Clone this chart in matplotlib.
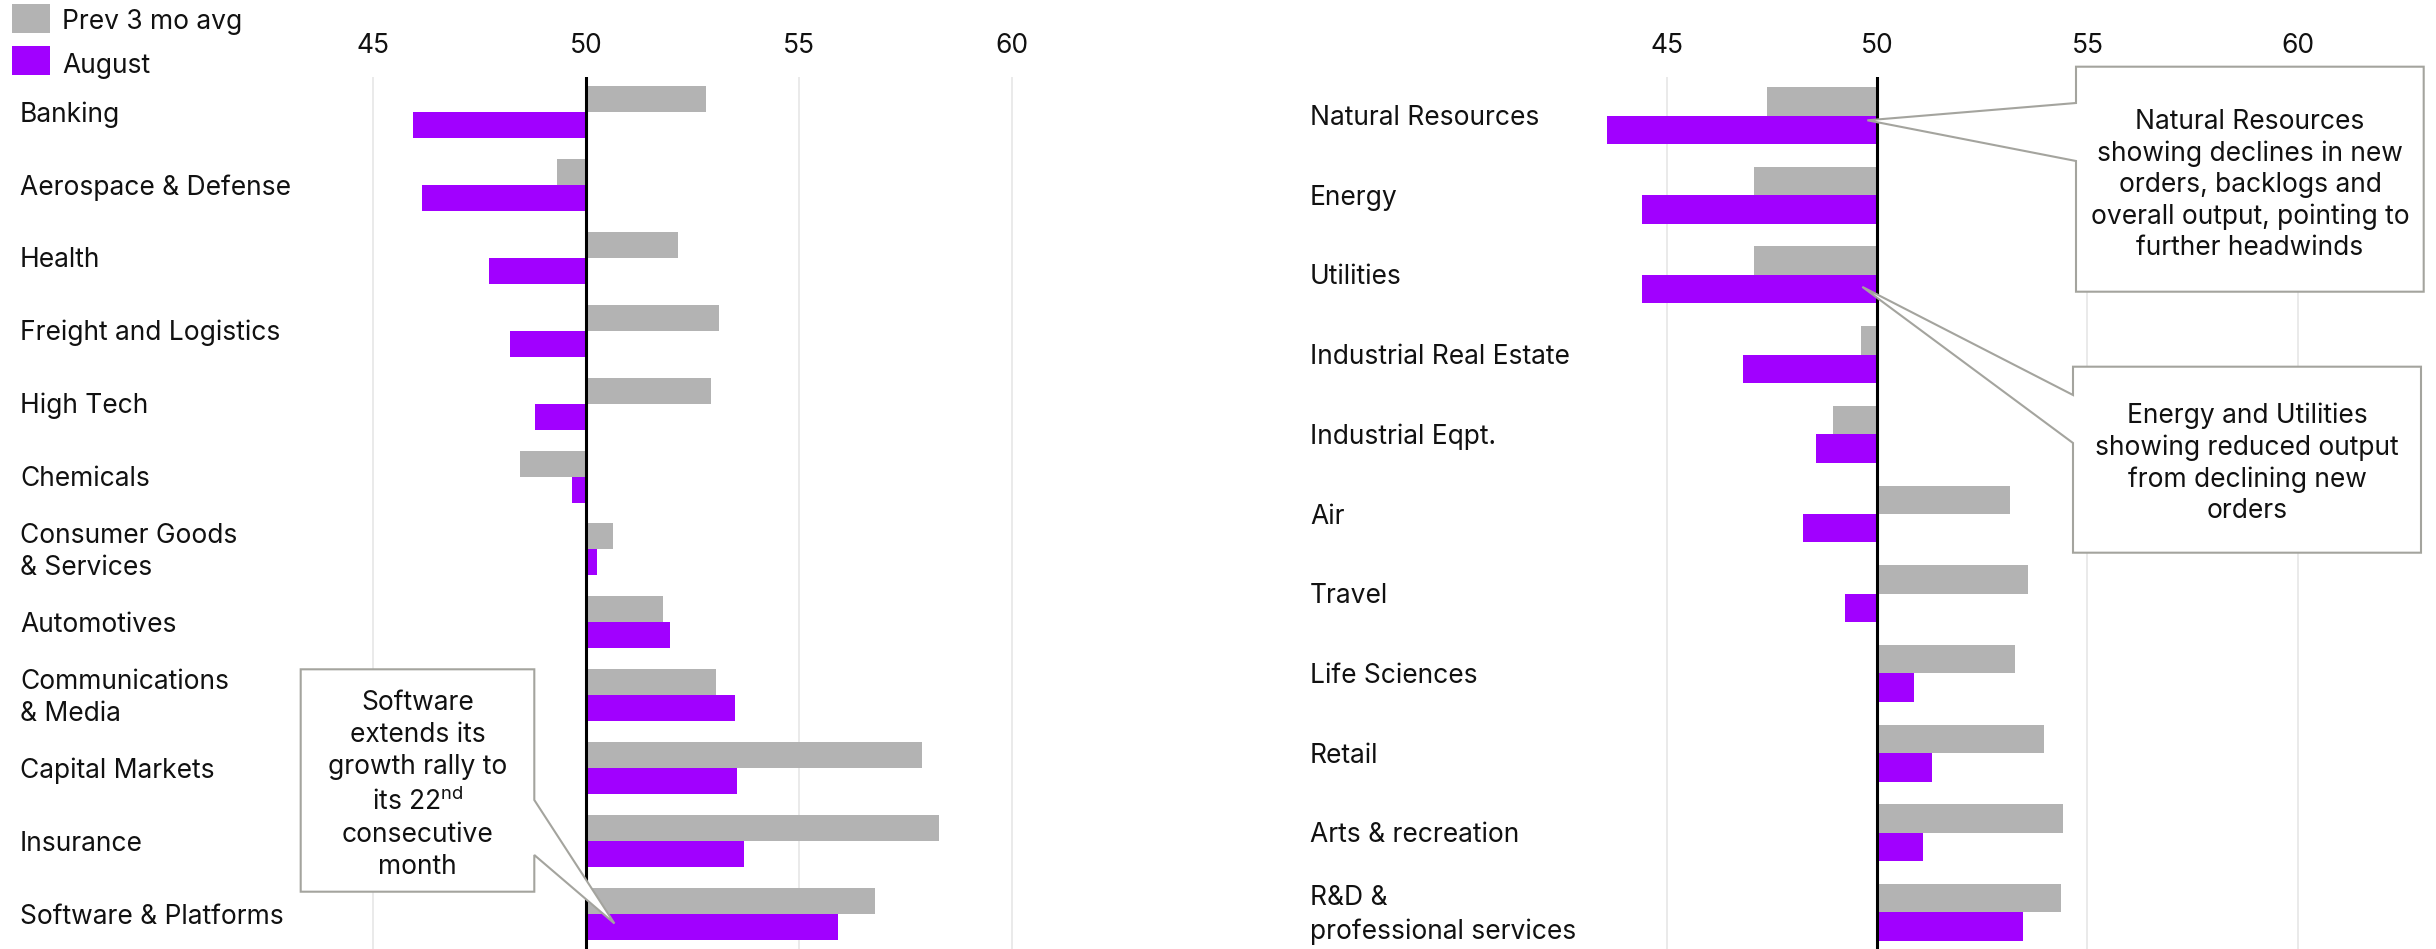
import matplotlib
matplotlib.use("Agg")
import matplotlib.pyplot as plt
import matplotlib.transforms as mtransforms
from matplotlib.patches import Polygon, Rectangle
import numpy as np

plt.rcParams['font.family'] = ['Inter', 'DejaVu Sans']
plt.rcParams['mathtext.fontset'] = 'custom'
plt.rcParams['mathtext.rm'] = 'Inter'
plt.rcParams['mathtext.it'] = 'Inter'
plt.rcParams['mathtext.bf'] = 'Inter'

# ---------------- data ----------------
series_labels = ["Prev 3 mo avg", "August"]
x_ticks = [45, 50, 55, 60]

left_categories = ["Banking", "Aerospace & Defense", "Health", "Freight and Logistics",
                   "High Tech", "Chemicals", "Consumer Goods\n& Services", "Automotives",
                   "Communications\n& Media", "Capital Markets", "Insurance",
                   "Software & Platforms"]
left_prev = [52.83, 49.31, 52.16, 53.13, 52.93, 48.45, 50.63, 51.80, 53.06, 57.89, 58.29, 56.79]
left_aug = [45.93, 46.15, 47.73, 48.22, 48.81, 49.67, 50.25, 51.98, 53.51, 53.56, 53.72, 55.93]

right_categories = ["Natural Resources", "Energy", "Utilities", "Industrial Real Estate",
                    "Industrial Eqpt.", "Air", "Travel", "Life Sciences", "Retail",
                    "Arts & recreation", "R&D &\nprofessional services"]
right_prev = [47.39, 47.08, 47.08, 49.63, 48.96, 53.15, 53.58, 53.29, 53.98, 54.42, 54.37]
right_aug = [43.59, 44.42, 44.42, 46.82, 48.56, 48.23, 49.23, 50.89, 51.30, 51.10, 53.46]

note_software = "Software\nextends its\ngrowth rally to\nits 22$^{\\rm nd}$\nconsecutive\nmonth"
note_natres = "Natural Resources\nshowing declines in new\norders, backlogs and\noverall output, pointing to\nfurther headwinds"
note_energy = "Energy and Utilities\nshowing reduced output\nfrom declining new\norders"

# ---------------- style ----------------
W, H = 2436, 949
GRAY = "#b3b3b3"
PURPLE = "#a100ff"
GRID = "#e6e6e6"
BOXEDGE = "#a4a49e"
FS = 19
BASE = 50

fig = plt.figure(figsize=(W / 100, H / 100), dpi=100)


def fx(px):
    return px / W


def fy(py):
    return 1 - py / H


AX_TOP = 76.7


def make_panel(x0, x1, cats, prev, aug, ylim, label_x):
    ax = fig.add_axes([fx(x0), 0, fx(x1) - fx(x0), (H - AX_TOP) / H])
    n = len(cats)
    y = np.arange(n)
    h = 0.357
    ax.barh(y - h / 2, np.array(prev) - BASE, left=BASE, height=h, color=GRAY, zorder=2)
    ax.barh(y + h / 2, np.array(aug) - BASE, left=BASE, height=h, color=PURPLE, zorder=2)
    ax.set_xlim(43, 63)
    ax.set_ylim(*ylim)
    for s in ax.spines.values():
        s.set_visible(False)
    ax.set_xticks(x_ticks)
    ax.set_xticklabels([str(t) for t in x_ticks])
    ax.xaxis.tick_top()
    ax.tick_params(axis='x', length=0, labelsize=FS, pad=12.5, colors='#111111')
    ax.set_yticks([])
    for t in x_ticks:
        if t != BASE:
            ax.axvline(t, color=GRID, lw=1.2, zorder=0)
    ax.axvline(BASE, color='black', lw=2.2, zorder=3)
    trans = mtransforms.blended_transform_factory(fig.transFigure, ax.transData)
    trans = mtransforms.offset_copy(trans, fig=fig, y=-2.5, units='dots')
    for i, c in enumerate(cats):
        ax.text(fx(label_x), i, c, transform=trans, ha='left', va='center',
                fontsize=FS, linespacing=1.32, color='#111111')
    return ax


axL = make_panel(287.9, 1139.3, left_categories, left_prev, left_aug,
                 (len(left_categories) - 1 + 0.48, -0.484), 20)
axR = make_panel(1582.6, 2423.9, right_categories, right_prev, right_aug,
                 (len(right_categories) - 1 + 0.458, -0.487), 1310)

# legend
for (ytop, ybot), col, lab, base in [((4, 32.7), GRAY, series_labels[0], 29.3),
                                      ((46, 74.7), PURPLE, series_labels[1], 72.7)]:
    fig.add_artist(Rectangle((fx(12), fy(ybot)), fx(50) - fx(12), fy(ytop) - fy(ybot),
                             transform=fig.transFigure, color=col, lw=0))
    fig.text(fx(62), fy(base), lab, ha='left', va='baseline', fontsize=FS, color='#111111')

fig.canvas.draw()


def tip_px(ax, x, y):
    dx, dy = ax.transData.transform((x, y))
    return dx, H - dy


def callout(verts_px, text, tx, ty, ls):
    pts = [(fx(a), fy(b)) for a, b in verts_px]
    fig.add_artist(Polygon(pts, closed=True, transform=fig.transFigure, facecolor='white',
                           edgecolor=BOXEDGE, lw=1.5, zorder=10))
    fig.text(fx(tx), fy(ty), text, ha='center', va='center', fontsize=FS,
             linespacing=ls, color='#111111', zorder=11, multialignment='center')


# Software callout
t = tip_px(axL, 50.67, 11.13)
callout([(300.7, 669.3), (534.3, 669.3), (534.3, 800), t, (534.3, 855),
         (534.3, 891.7), (300.7, 891.7)], note_software, 417.5, 785, 1.30)

# Natural resources callout
t = tip_px(axR, 49.77, 0.06)
callout([(2076, 66.7), (2423.7, 66.7), (2423.7, 291.7), (2076, 291.7), (2076, 161), t,
         (2076, 103)], note_natres, 2250, 185, 1.26)

# Energy & Utilities callout
t = tip_px(axR, 49.65, 2.15)
callout([(2073, 366.7), (2421, 366.7), (2421, 552.7), (2073, 552.7), (2073, 443), t,
         (2073, 395)], note_energy, 2247, 463, 1.27)

fig.savefig("out.png", dpi=100, facecolor='white')
